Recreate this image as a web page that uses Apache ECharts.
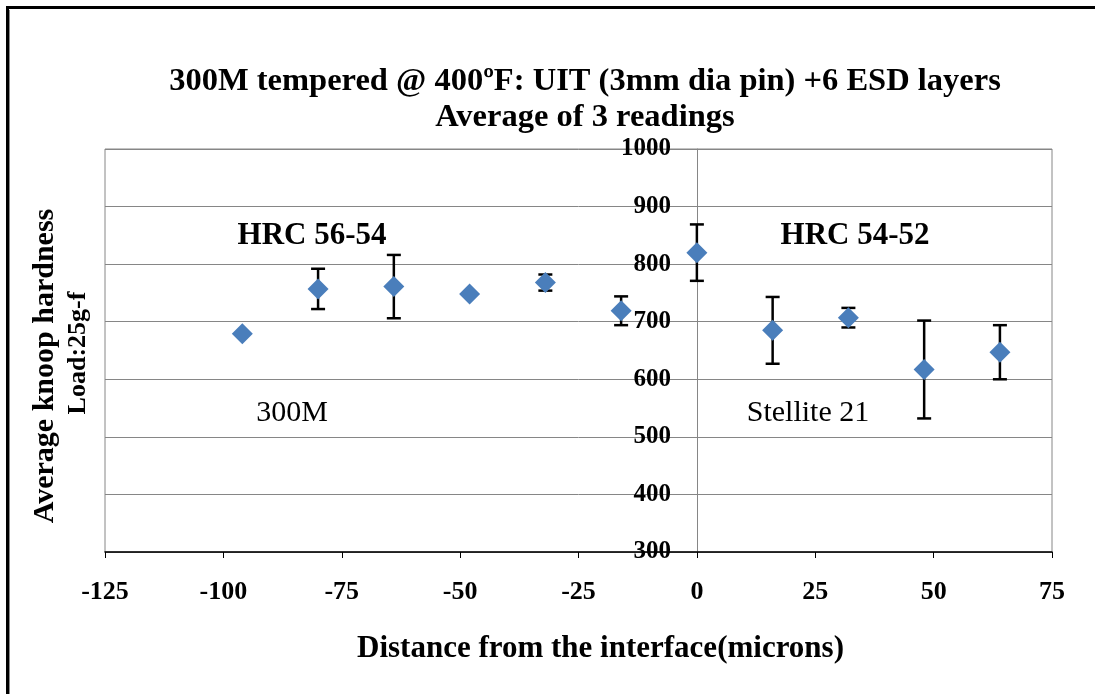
<!DOCTYPE html>
<html>
<head>
<meta charset="utf-8">
<script src="https://cdn.jsdelivr.net/npm/echarts@6/dist/echarts.min.js"></script>
<style>
html,body{margin:0;padding:0;background:#fff;}
#chart{width:1095px;height:694px;}
</style>
</head>
<body>
<div id="chart"></div>
<script>
// Data
var distances = [-96, -80, -64, -48, -32, -16, 0, 16, 32, 48, 64];
var hardness  = [679, 757, 761, 748, 768, 719, 820, 685, 707, 617, 647];
var errors    = [0, 35, 55, 0, 14, 25, 49, 58, 17, 85, 47];

var titleLine1 = '300M tempered @ 400ºF: UIT (3mm dia pin) +6 ESD layers';
var titleLine2 = 'Average of 3 readings';
var xAxisTitle = 'Distance from the interface(microns)';
var yAxisTitle1 = 'Average knoop hardness';
var yAxisTitle2 = 'Load:25g-f';
var annotations = ['HRC 56-54', 'HRC 54-52', '300M', 'Stellite 21'];

var SERIF = "'Liberation Serif', 'Times New Roman', serif";

var points = distances.map(function (d, i) { return [d, hardness[i]]; });
var bars = [];
distances.forEach(function (d, i) {
  if (errors[i] > 0) bars.push([d, hardness[i] - errors[i], hardness[i] + errors[i]]);
});

var GRID_LEFT = 105, GRID_RIGHT = 43;
var X_MIN = -125, X_MAX = 75;
// y axis crosses the x axis at 0: offset measured from the grid's left edge
var plotW = 1095 - GRID_LEFT - GRID_RIGHT;
var yAxisOffset = -plotW * (0 - X_MIN) / (X_MAX - X_MIN);

var chart = echarts.init(document.getElementById('chart'));
chart.setOption({
  backgroundColor: '#fff',
  animation: false,
  title: {
    text: titleLine1 + '\n' + titleLine2,
    left: 580,
    top: 59,
    textAlign: 'center',
    textStyle: { fontFamily: SERIF, fontWeight: 'bold', fontSize: 32.5, lineHeight: 36, color: '#000' }
  },
  grid: {
    left: GRID_LEFT, right: GRID_RIGHT, top: 149, bottom: 142,
    show: true, borderColor: '#868686', borderWidth: 1, backgroundColor: 'transparent'
  },
  xAxis: {
    type: 'value', min: X_MIN, max: X_MAX, interval: 25,
    name: xAxisTitle, nameLocation: 'middle', nameGap: 81,
    nameTextStyle: { fontFamily: SERIF, fontWeight: 'bold', fontSize: 31, color: '#000', padding: [0, 0, 0, 44] },
    axisLine: { onZero: false, lineStyle: { color: '#000', width: 1.5 } },
    axisTick: { show: true, inside: false, length: 6, lineStyle: { color: '#000', width: 1 } },
    axisLabel: { fontFamily: SERIF, fontWeight: 'bold', fontSize: 26, color: '#000', margin: 27,
                 formatter: function (v) { return String(v); } },
    splitLine: { show: false }
  },
  yAxis: {
    type: 'value', min: 300, max: 1000, interval: 100,
    position: 'left',
    offset: yAxisOffset,
    axisLine: { show: true, onZero: false, lineStyle: { color: '#868686', width: 1 } },
    axisTick: { show: false },
    axisLabel: { fontFamily: SERIF, fontWeight: 'bold', fontSize: 25, color: '#000', margin: 26,
                 formatter: function (v) { return String(v); } },
    splitLine: { show: true, lineStyle: { color: '#868686', width: 1 } }
  },
  series: [
    {
      type: 'custom',
      name: 'error',
      data: bars,
      encode: { x: 0, y: [1, 2] },
      z: 2,
      renderItem: function (params, api) {
        var x = api.value(0), lo = api.value(1), hi = api.value(2);
        var pt = api.coord([x, hi]);
        var pb = api.coord([x, lo]);
        var hw = 7;
        var st = { stroke: '#000', lineWidth: 2.5 };
        return {
          type: 'group',
          children: [
            { type: 'line', shape: { x1: pt[0], y1: pt[1], x2: pb[0], y2: pb[1] }, style: st },
            { type: 'line', shape: { x1: pt[0] - hw, y1: pt[1], x2: pt[0] + hw, y2: pt[1] }, style: st },
            { type: 'line', shape: { x1: pb[0] - hw, y1: pb[1], x2: pb[0] + hw, y2: pb[1] }, style: st }
          ]
        };
      }
    },
    {
      type: 'scatter',
      name: 'hardness',
      data: points,
      symbol: 'diamond',
      symbolSize: [21, 21],
      z: 3,
      itemStyle: { color: '#4A7EBB', opacity: 1 }
    }
  ],
  graphic: [
    { type: 'polyline', silent: true, shape: { points: [[7.5, 694], [7.5, 7.5], [1095, 7.5]] },
      style: { stroke: '#000', lineWidth: 3, fill: null } },
    { type: 'line', silent: true, shape: { x1: 9.5, y1: 10, x2: 9.5, y2: 694 },
      style: { stroke: '#8c8c8c', lineWidth: 1 } },
    { type: 'text', x: 45, y: 366, rotation: Math.PI / 2,
      style: { text: yAxisTitle1, align: 'center', verticalAlign: 'middle', fill: '#000',
               font: 'bold 30px ' + SERIF } },
    { type: 'text', x: 78, y: 353, rotation: Math.PI / 2,
      style: { text: yAxisTitle2, align: 'center', verticalAlign: 'middle', fill: '#000',
               font: 'bold 26px ' + SERIF } },
    { type: 'text', x: 312, y: 236,
      style: { text: annotations[0], align: 'center', verticalAlign: 'middle', fill: '#000',
               font: 'bold 31px ' + SERIF } },
    { type: 'text', x: 855, y: 236,
      style: { text: annotations[1], align: 'center', verticalAlign: 'middle', fill: '#000',
               font: 'bold 31px ' + SERIF } },
    { type: 'text', x: 292, y: 413,
      style: { text: annotations[2], align: 'center', verticalAlign: 'middle', fill: '#000',
               font: 'normal 30px ' + SERIF } },
    { type: 'text', x: 808, y: 413,
      style: { text: annotations[3], align: 'center', verticalAlign: 'middle', fill: '#000',
               font: 'normal 30px ' + SERIF } }
  ]
});
</script>
</body>
</html>
